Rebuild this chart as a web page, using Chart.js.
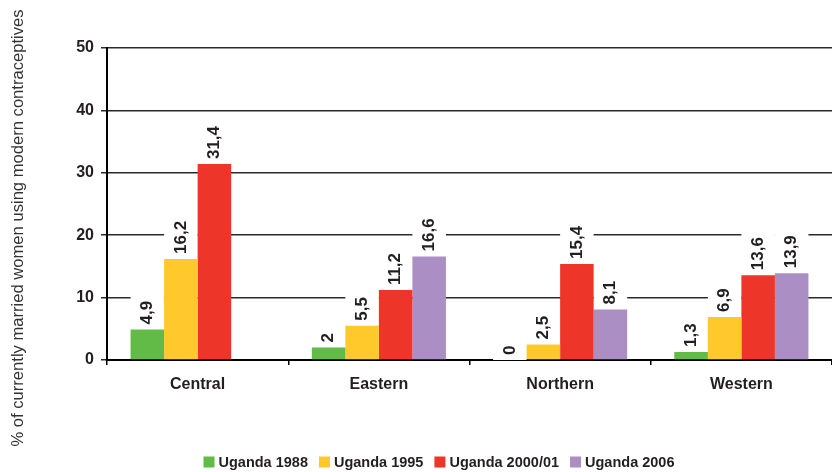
<!DOCTYPE html>
<html>
<head>
<meta charset="utf-8">
<script src="https://cdn.jsdelivr.net/npm/chart.js@4.4.1/dist/chart.umd.min.js"></script>
<style>
  html, body { margin: 0; padding: 0; background: #fff; overflow: hidden; }
  #wrap { width: 832px; height: 472px; position: relative; }
</style>
</head>
<body>
<div id="wrap"><canvas id="c"></canvas></div>
<script>
// regions
const regions = ['Central', 'Eastern', 'Northern', 'Western'];
// survey series
const seriesNames = ['Uganda 1988', 'Uganda 1995', 'Uganda 2000/01', 'Uganda 2006'];
const v1988 = [4.9, 2, 0, 1.3];
const v1995 = [16.2, 5.5, 2.5, 6.9];
const v2000 = [31.4, 11.2, 15.4, 13.6];
const v2006 = [null, 16.6, 8.1, 13.9];
const yTicks = [0, 10, 20, 30, 40, 50];
const yTitle = '% of currently married women using modern contraceptives';

const colors = ['#62BB46', '#FFC92B', '#EE3529', '#AB8FC4'];
const ink = '#231F20';
const fontName = "'Liberation Sans', Arial, sans-serif";

const fmt = v => String(v).replace('.', ',');

// white boxes behind value labels (cut the grid lines) + rotated labels
const valueLabels = {
  id: 'valueLabels',
  beforeDatasetsDraw(chart) {
    const ctx = chart.ctx;
    ctx.save();
    ctx.font = 'bold 17px ' + fontName;
    chart.data.datasets.forEach((ds, i) => {
      chart.getDatasetMeta(i).data.forEach((bar, j) => {
        const v = ds.data[j];
        if (v == null) return;
        const w = ctx.measureText(fmt(v)).width;
        ctx.fillStyle = '#fff';
        ctx.fillRect(bar.x - bar.width / 2, bar.y - 5 - w - 4, bar.width, w + 9);
      });
    });
    ctx.restore();
  },
  afterDatasetsDraw(chart) {
    const ctx = chart.ctx;
    ctx.save();
    ctx.font = 'bold 17px ' + fontName;
    ctx.fillStyle = ink;
    ctx.textAlign = 'left';
    ctx.textBaseline = 'middle';
    chart.data.datasets.forEach((ds, i) => {
      chart.getDatasetMeta(i).data.forEach((bar, j) => {
        const v = ds.data[j];
        if (v == null) return;
        ctx.save();
        ctx.translate(bar.x, bar.y - 5);
        ctx.rotate(-Math.PI / 2);
        ctx.fillText(fmt(v), 0, 0);
        ctx.restore();
      });
    });
    ctx.restore();
  }
};

// rotated axis title + legend row along the bottom
const extras = {
  id: 'extras',
  afterDraw(chart) {
    const ctx = chart.ctx;
    ctx.save();
    ctx.font = '16.6px ' + fontName;
    ctx.fillStyle = '#333';
    ctx.textAlign = 'center';
    ctx.textBaseline = 'middle';
    ctx.translate(18, 228);
    ctx.rotate(-Math.PI / 2);
    ctx.fillText(yTitle, 0, 0);
    ctx.restore();

    ctx.save();
    ctx.font = 'bold 14.5px ' + fontName;
    ctx.textBaseline = 'middle';
    ctx.textAlign = 'left';
    const box = 11, gap = 4, sep = 11, cy = 462;
    const items = chart.data.datasets.map(d => ({ text: d.label, color: d.backgroundColor, w: ctx.measureText(d.label).width }));
    const total = items.reduce((s, it) => s + box + gap + it.w, 0) + sep * (items.length - 1);
    let x = 439 - total / 2;
    items.forEach(it => {
      ctx.fillStyle = it.color;
      ctx.fillRect(x, cy - box / 2, box, box);
      ctx.fillStyle = ink;
      ctx.fillText(it.text, x + box + gap, cy + 1);
      x += box + gap + it.w + sep;
    });
    ctx.restore();
  }
};

new Chart(document.getElementById('c'), {
  type: 'bar',
  data: {
    labels: regions,
    datasets: [v1988, v1995, v2000, v2006].map((d, i) => ({
      label: seriesNames[i],
      data: d,
      backgroundColor: colors[i],
      borderWidth: 0,
      categoryPercentage: 0.74,
      barPercentage: 1
    }))
  },
  options: {
    responsive: true, maintainAspectRatio: false,
    animation: false,
    layout: { padding: { top: 48, right: 0, left: 0, bottom: 0 } },
    plugins: {
      tooltip: { enabled: false },
      legend: { display: false }
    },
    scales: {
      x: {
        grid: { drawOnChartArea: false, color: '#000', tickLength: 5, lineWidth: 1.5 },
        border: { color: '#000', width: 2 },
        ticks: { color: ink, font: { family: fontName, size: 16, weight: 'bold' }, padding: 10 },
        afterFit(scale) { scale.height = 112; }
      },
      y: {
        min: 0, max: 50,
        afterBuildTicks(scale) { scale.ticks = yTicks.map(v => ({ value: v })); },
        grid: { color: '#2a2a2a', lineWidth: 1.5, tickLength: 6 },
        border: { color: '#000', width: 2 },
        ticks: { color: ink, font: { family: fontName, size: 16, weight: 'bold' }, padding: 7 },
        afterFit(scale) { scale.width = 107; }
      }
    }
  },
  plugins: [valueLabels, extras]
});
</script>
</body>
</html>
